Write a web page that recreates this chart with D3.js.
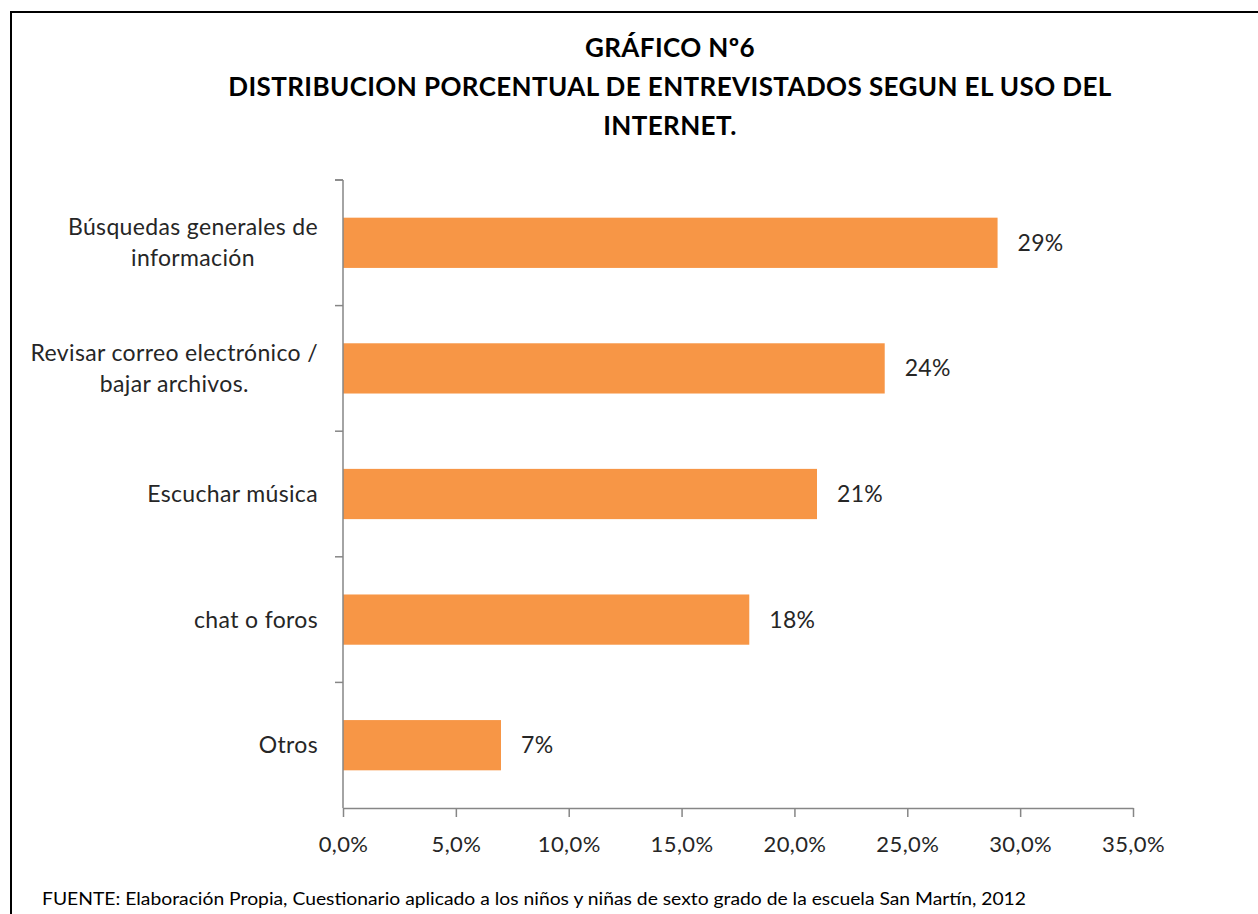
<!DOCTYPE html>
<html><head><meta charset="utf-8">
<script src="https://cdn.jsdelivr.net/npm/d3@7"></script>
<style>body{margin:0;background:#fff}svg{display:block}</style>
</head><body>
<svg id="c" width="1258" height="914"></svg>
<script>
const titleLines = ["GRÁFICO Nº6", "DISTRIBUCION PORCENTUAL  DE ENTREVISTADOS SEGUN EL USO DEL", "INTERNET."];
const categories = ["Búsquedas generales de\ninformación", "Revisar correo electrónico /\nbajar archivos.", "Escuchar música", "chat o foros", "Otros"];
const values = [0.29, 0.24, 0.21, 0.18, 0.07];
const valueLabels = ["29%", "24%", "21%", "18%", "7%"];
const xTicks = [0, 0.05, 0.10, 0.15, 0.20, 0.25, 0.30, 0.35];
const footer = "FUENTE: Elaboración Propia, Cuestionario aplicado a los niños y niñas de sexto grado de la escuela San Martín, 2012";

const svg = d3.select("#c");
const font = "Lato, 'Open Sans', sans-serif";
const textCol = "#262626";
const axisCol = "#868686";
const barCol = "#F79646";

// border
svg.append("rect").attr("x", 11).attr("y", 12).attr("width", 1260).attr("height", 920)
  .attr("fill", "none").attr("stroke", "#000").attr("stroke-width", 2);

// title
svg.append("g").selectAll("text").data(titleLines).join("text")
  .attr("x", 670).attr("y", (d, i) => 48 + i * 39).attr("dy", "0.35em")
  .attr("text-anchor", "middle").attr("font-family", font).attr("font-weight", "bold")
  .attr("font-size", 26).attr("letter-spacing", 0.4).attr("fill", "#000").text(d => d);

const x = d3.scaleLinear().domain([0, 0.35]).range([343, 1133]);
const y = d3.scaleBand().domain(categories).range([180, 808]).paddingInner(0.6).paddingOuter(0.3);

// bars
svg.append("g").selectAll("rect").data(values).join("rect")
  .attr("x", x(0)).attr("y", (d, i) => y(categories[i]))
  .attr("width", d => x(d) - x(0)).attr("height", y.bandwidth()).attr("fill", barCol);

// value labels
svg.append("g").selectAll("text").data(values).join("text")
  .attr("x", d => x(d) + 20).attr("y", (d, i) => y(categories[i]) + y.bandwidth() / 2).attr("dy", "0.35em")
  .attr("font-family", font).attr("font-size", 23).attr("letter-spacing", 0.3).attr("fill", textCol)
  .text((d, i) => valueLabels[i]);

// y axis line and boundary ticks
const yAxisG = svg.append("g");
yAxisG.append("line").attr("x1", x(0)).attr("x2", x(0)).attr("y1", y.range()[0]).attr("y2", y.range()[1])
  .attr("stroke", axisCol).attr("stroke-width", 1.5);
const step = y.step();
const bounds = categories.map(c => y(c) - step * y.paddingInner() / 2).concat([y.range()[0]]);
yAxisG.selectAll("line.t").data(bounds).join("line").attr("class", "t")
  .attr("x1", x(0) - 8).attr("x2", x(0)).attr("y1", d => d).attr("y2", d => d)
  .attr("stroke", axisCol).attr("stroke-width", 1.5);

// category labels (multi-line, centered block, right aligned)
categories.forEach(c => {
  const lines = c.split("\n");
  const g = svg.append("g");
  const cy = y(c) + y.bandwidth() / 2;
  const lh = 31;
  const texts = lines.map((l, i) => g.append("text")
    .attr("y", cy + (i - (lines.length - 1) / 2) * lh).attr("dy", "0.35em")
    .attr("font-family", font).attr("font-size", 23).attr("letter-spacing", 0.35).attr("fill", textCol)
    .attr("text-anchor", "middle").text(l));
  const maxW = d3.max(texts, t => t.node().getComputedTextLength());
  const right = 318;
  texts.forEach(t => t.attr("x", right - maxW / 2));
});

// x axis
const loc = d3.formatLocale({decimal: ",", thousands: ".", grouping: [3], currency: ["", "€"]});
const fmt = loc.format(".1%");
const xAxis = svg.append("g").attr("transform", `translate(0,${y.range()[1]})`)
  .call(d3.axisBottom(x).tickValues(xTicks).tickSize(9).tickSizeOuter(0).tickPadding(19).tickFormat(fmt));
xAxis.select(".domain").attr("stroke", axisCol).attr("stroke-width", 1.5);
xAxis.selectAll(".tick line").attr("stroke", axisCol).attr("stroke-width", 1.5);
xAxis.selectAll(".tick text").attr("font-family", font).attr("font-size", 22).attr("letter-spacing", 0.4).attr("fill", textCol);

// footer
svg.append("text").attr("x", 42).attr("y", 899).attr("dy", "0.35em")
  .attr("font-family", font).attr("font-size", 17).attr("fill", "#000")
  .attr("textLength", 984).attr("lengthAdjust", "spacingAndGlyphs").text(footer);
</script>
</body></html>
